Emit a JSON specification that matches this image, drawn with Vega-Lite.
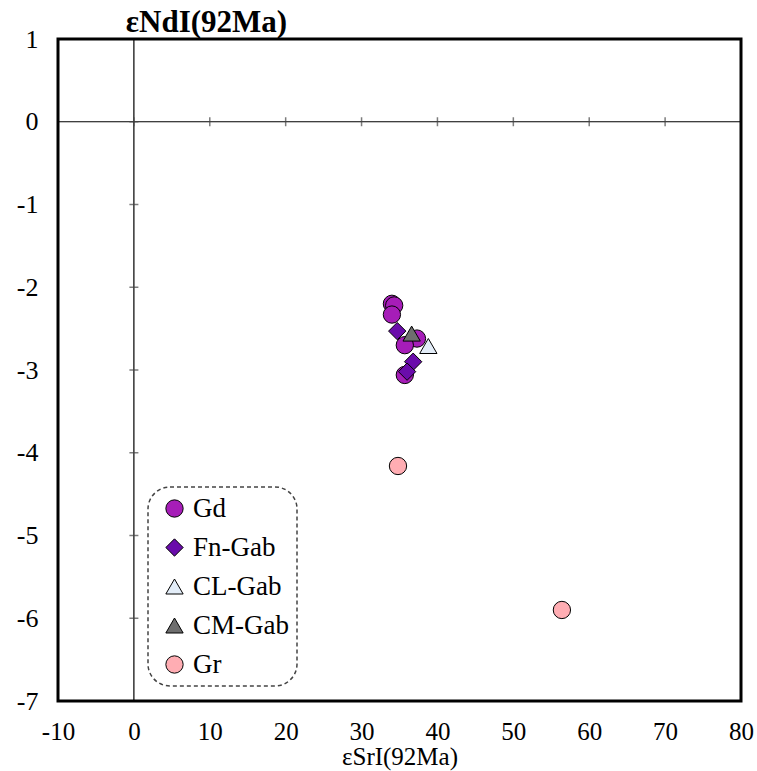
{
  "$schema": "https://vega.github.io/schema/vega-lite/v6.json",
  "width": 683,
  "height": 662,
  "autosize": {"type": "none"},
  "padding": {"left": 58, "top": 39, "right": 16, "bottom": 70},
  "background": "white",
  "config": {
    "view": {"stroke": "black", "strokeWidth": 3},
    "font": "Liberation Serif",
    "legend": {
      "orient": "none",
      "legendX": 90,
      "legendY": 448,
      "strokeColor": "#444",
      "strokeDash": [4, 3],
      "strokeWidth": 1.5,
      "cornerRadius": 22,
      "padding": 8,
      "labelFont": "Liberation Serif",
      "labelFontSize": 27,
      "labelColor": "black",
      "labelOffset": 5,
      "symbolOffset": 5,
      "symbolSize": 300,
      "symbolStrokeWidth": 1,
      "rowPadding": 11,
      "titleOrient": "right",
      "titlePadding": 0,
      "titleFontSize": 27,
      "titleFont": "Liberation Serif"
    }
  },
  "datasets": {
    "pts": [
      {"g": "Gd", "sr": 34.0, "nd": -2.20},
      {"g": "Gd", "sr": 34.3, "nd": -2.22},
      {"g": "Gd", "sr": 34.0, "nd": -2.33},
      {"g": "Gd", "sr": 37.3, "nd": -2.62},
      {"g": "Gd", "sr": 35.7, "nd": -2.70},
      {"g": "Gd", "sr": 35.7, "nd": -3.06},
      {"g": "Fn-Gab", "sr": 34.7, "nd": -2.53},
      {"g": "Fn-Gab", "sr": 36.8, "nd": -2.90},
      {"g": "Fn-Gab", "sr": 36.0, "nd": -3.02},
      {"g": "CL-Gab", "sr": 38.8, "nd": -2.71},
      {"g": "CM-Gab", "sr": 36.6, "nd": -2.56},
      {"g": "Gr", "sr": 34.8, "nd": -4.16},
      {"g": "Gr", "sr": 56.4, "nd": -5.90}
    ],
    "xt": [{"v": 0}, {"v": 10}, {"v": 20}, {"v": 30}, {"v": 40}, {"v": 50}, {"v": 60}, {"v": 70}],
    "yt": [{"v": 0}, {"v": -1}, {"v": -2}, {"v": -3}, {"v": -4}, {"v": -5}, {"v": -6}]
  },
  "layer": [
    {
      "data": {"values": [{"z": 0}]},
      "mark": {"type": "rule", "color": "black", "strokeWidth": 1.2},
      "encoding": {"x": {"field": "z", "type": "quantitative"}}
    },
    {
      "data": {"values": [{"z": 0}]},
      "mark": {"type": "rule", "color": "black", "strokeWidth": 1.2},
      "encoding": {"y": {"field": "z", "type": "quantitative"}}
    },
    {
      "data": {"name": "xt"},
      "mark": {"type": "tick", "orient": "vertical", "color": "#444", "thickness": 1.5, "size": 9},
      "encoding": {
        "x": {"field": "v", "type": "quantitative"},
        "y": {"datum": 0, "type": "quantitative"}
      }
    },
    {
      "data": {"name": "yt"},
      "mark": {"type": "tick", "orient": "horizontal", "color": "#444", "thickness": 1.5, "size": 9},
      "encoding": {
        "y": {"field": "v", "type": "quantitative"},
        "x": {"datum": 0, "type": "quantitative"}
      }
    },
    {
      "data": {"name": "pts"},
      "mark": {"type": "point", "filled": true, "opacity": 1, "strokeWidth": 1, "size": 300},
      "encoding": {
        "x": {
          "field": "sr",
          "type": "quantitative",
          "scale": {"domain": [-10, 80], "nice": false, "zero": false},
          "axis": {
            "values": [-10, 0, 10, 20, 30, 40, 50, 60, 70, 80],
            "labelExpr": "datum.value < 0 ? '-' + (-datum.value) : '' + datum.value",
            "labelFlush": false,
            "labelOverlap": false,
            "grid": false,
            "domain": false,
            "ticks": false,
            "tickSize": 0,
            "labelFontSize": 25,
            "labelColor": "black",
            "labelPadding": 18,
            "labelFont": "Liberation Serif",
            "title": "εSrI(92Ma)",
            "titleFont": "Liberation Serif",
            "titleFontSize": 25,
            "titleFontWeight": "normal",
            "titleColor": "black",
            "titlePadding": 0
          }
        },
        "y": {
          "field": "nd",
          "type": "quantitative",
          "scale": {"domain": [-7, 1], "nice": false, "zero": false},
          "axis": {
            "values": [-7, -6, -5, -4, -3, -2, -1, 0, 1],
            "labelExpr": "datum.value < 0 ? '-' + (-datum.value) : '' + datum.value",
            "labelFlush": false,
            "labelOverlap": false,
            "grid": false,
            "domain": false,
            "ticks": false,
            "tickSize": 0,
            "labelFontSize": 26,
            "labelColor": "black",
            "labelPadding": 20,
            "labelFont": "Liberation Serif",
            "title": "εNdI(92Ma)",
            "titleFont": "Liberation Serif",
            "titleFontSize": 31,
            "titleFontWeight": "bold",
            "titleColor": "black",
            "titleAngle": 0,
            "titleAlign": "center",
            "titleBaseline": "middle",
            "titleX": 148,
            "titleY": -17
          }
        },
        "fill": {
          "field": "g",
          "type": "nominal",
          "title": "\u00a0\u00a0\u00a0",
          "scale": {
            "domain": ["Gd", "Fn-Gab", "CL-Gab", "CM-Gab", "Gr"],
            "range": ["#A61DB8", "#6A0CAB", "#E3EDF8", "#6E6E6E", "#FFADB3"]
          }
        },
        "shape": {
          "field": "g",
          "type": "nominal",
          "title": "\u00a0\u00a0\u00a0",
          "scale": {
            "domain": ["Gd", "Fn-Gab", "CL-Gab", "CM-Gab", "Gr"],
            "range": ["circle", "diamond", "triangle-up", "triangle-up", "circle"]
          }
        },
        "stroke": {
          "field": "g",
          "type": "nominal",
          "title": "\u00a0\u00a0\u00a0",
          "scale": {
            "domain": ["Gd", "Fn-Gab", "CL-Gab", "CM-Gab", "Gr"],
            "range": ["black", "black", "black", "black", "black"]
          }
        }
      }
    }
  ]
}
